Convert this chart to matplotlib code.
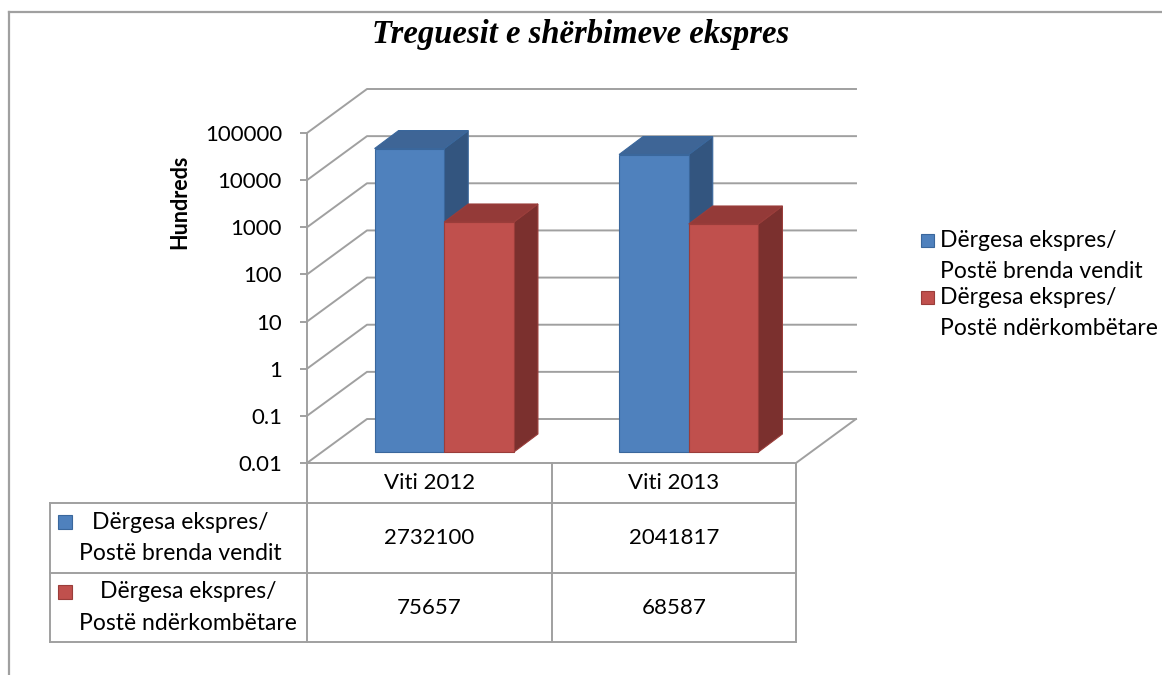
import matplotlib
matplotlib.use('Agg')
import matplotlib.pyplot as plt
import numpy as np
from matplotlib.lines import Line2D
from matplotlib.patches import Polygon, Rectangle
from matplotlib.transforms import IdentityTransform, offset_copy

W, H = 1162, 675

title = 'Treguesit e shërbimeve ekspres'
unit_label = 'Hundreds'
categories = ['Viti 2012', 'Viti 2013']
series_names = ['Dërgesa ekspres/\nPostë brenda vendit',
                'Dërgesa ekspres/\nPostë ndërkombëtare']
domestic = [2732100, 2041817]
international = [75657, 68587]
tick_values = [0.01, 0.1, 1, 10, 100, 1000, 10000, 100000]
tick_labels = ['0.01', '0.1', '1', '10', '100', '1000', '10000', '100000']

front_colors = ['#4F81BD', '#C0504D']
top_colors = ['#3E6596', '#943A38']
side_colors = ['#33557F', '#7B302E']
edge_colors = ['#3A679C', '#9A3D3A']
grid_color = '#A0A0A0'

plt.rcParams['font.family'] = ['Lato', 'DejaVu Sans']

fig = plt.figure(figsize=(W / 100, H / 100), dpi=100)


def fx(x):
    return x / W


def fy(y):
    return 1 - y / H


def px_line(xs, ys, lw=1.4):
    # line in picture pixels (y measured from the top)
    fig.add_artist(Line2D([fx(x) for x in xs], [fy(y) for y in ys],
                          transform=fig.transFigure, color=grid_color, lw=lw,
                          solid_capstyle='projecting'))


def disp(tr, x, y):
    return np.asarray(tr.transform((x, y)), dtype=float)


# outer chart frame (runs off the right and bottom edge)
px_line([9, W + 5], [12, 12], lw=1.6)
px_line([9, 9], [12, H + 5], lw=1.6)

# front plane of the 3d box
ax = fig.add_axes([fx(307), fy(463), fx(796) - fx(307), fy(133) - fy(463)])
ax.set_yscale('log')
ax.set_xlim(-0.5, len(categories) - 0.5)
ax.set_ylim(tick_values[0], tick_values[-1])
ax.set_yticks(tick_values, tick_labels)
ax.yaxis.set_minor_locator(matplotlib.ticker.NullLocator())
ax.set_xticks([])
ax.patch.set_visible(False)
for s in ['top', 'right', 'bottom']:
    ax.spines[s].set_visible(False)
ax.spines['left'].set_color(grid_color)
ax.spines['left'].set_linewidth(1.4)
ax.tick_params(axis='y', length=5, width=1.4, color=grid_color, pad=13, labelsize=16)

wall = np.array([60.0, 44.0])       # depth of the box in pixels
bar_shift = np.array([15.0, 11.0])  # bars sit a quarter into the box
bar_depth = np.array([24.0, 18.0])

x_lo, x_hi = ax.get_xlim()
for t in tick_values:
    a = disp(ax.transData, x_lo, t)
    b = a + wall
    c = disp(ax.transData, x_hi, t) + wall
    ax.add_artist(Line2D([a[0], b[0], c[0]], [a[1], b[1], c[1]],
                         transform=IdentityTransform(), color=grid_color,
                         lw=1.4, clip_on=False, zorder=1))
f = disp(ax.transData, x_hi, tick_values[0])
ax.add_artist(Line2D([f[0], f[0] + wall[0]], [f[1], f[1] + wall[1]],
                     transform=IdentityTransform(), color=grid_color,
                     lw=1.4, clip_on=False, zorder=1))

# bars: front face with ax.bar, side and top faces from the same transform
front_tr = offset_copy(ax.transData, fig=fig, x=bar_shift[0], y=bar_shift[1], units='dots')
xpos = np.arange(len(categories))
bw = 0.285
series = [np.array(domestic) / 100, np.array(international) / 100]
floor = tick_values[0]
for k, vals in enumerate(series):
    xs = xpos + (k - 0.5) * bw
    base = 3 + 3 * k
    ax.bar(xs, vals - floor, bw, bottom=floor, transform=front_tr,
           color=front_colors[k], edgecolor=edge_colors[k], lw=0.8,
           clip_on=False, zorder=base + 2)
    for x, v in zip(xs, vals):
        tl = disp(front_tr, x - bw / 2, v)
        tr = disp(front_tr, x + bw / 2, v)
        br = disp(front_tr, x + bw / 2, floor)
        side = [br, tr, tr + bar_depth, br + bar_depth]
        top = [tl, tr, tr + bar_depth, tl + bar_depth]
        ax.add_artist(Polygon(side, closed=True, transform=IdentityTransform(),
                              fc=side_colors[k], ec=edge_colors[k], lw=0.8,
                              clip_on=False, zorder=base))
        ax.add_artist(Polygon(top, closed=True, transform=IdentityTransform(),
                              fc=top_colors[k], ec=edge_colors[k], lw=0.8,
                              clip_on=False, zorder=base + 1))

# title and unit label
fig.text(0.5, fy(34), title, ha='center', va='center', fontsize=23.5,
         family='Liberation Serif', style='italic', weight='bold')
fig.text(fx(180), fy(202), unit_label, rotation=90, ha='center', va='center',
         fontsize=15.5, weight='bold')

# data table under the axis
col_edges = [disp(ax.transData, x, 1)[0] for x in (-0.5, 0.5, 1.5)]
row_lines = [463, 503, 573, 642]
label_left = 50
px_line([col_edges[0], col_edges[-1]], [row_lines[0], row_lines[0]])
for y in row_lines[1:]:
    px_line([label_left, col_edges[-1]], [y, y])
for x in col_edges:
    px_line([x, x], [row_lines[0], row_lines[-1]])
px_line([label_left, label_left], [row_lines[1], row_lines[-1]])

for i, cat in enumerate(categories):
    cx = (col_edges[i] + col_edges[i + 1]) / 2
    fig.text(fx(cx), fy((row_lines[0] + row_lines[1]) / 2), cat,
             ha='center', va='center', fontsize=16)
    for k, raw in enumerate([domestic, international]):
        cy = (row_lines[k + 1] + row_lines[k + 2]) / 2
        fig.text(fx(cx), fy(cy), str(raw[i]), ha='center', va='center', fontsize=16)

for k, name in enumerate(series_names):
    cy = (row_lines[k + 1] + row_lines[k + 2]) / 2
    fig.add_artist(Rectangle((fx(58), fy(cy - 9)), 14 / W, 14 / H,
                             transform=fig.transFigure, fc=front_colors[k],
                             ec=edge_colors[k], lw=0.8))
    fig.text(fx(79), fy(cy), name, ha='left', va='center', multialignment='center',
             fontsize=16.5, linespacing=1.62)

# legend on the right
for k, name in enumerate(series_names):
    y1 = 240 + 57 * k
    fig.add_artist(Rectangle((fx(921), fy(y1 + 7)), 13 / W, 13 / H,
                             transform=fig.transFigure, fc=front_colors[k],
                             ec=edge_colors[k], lw=0.8))
    fig.text(fx(940), fy(y1 + 16), name, ha='left', va='center',
             fontsize=16.5, linespacing=1.62)

fig.savefig('out.png', dpi=100)
